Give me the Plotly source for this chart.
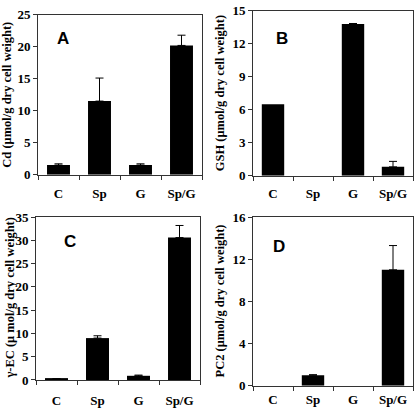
import plotly.graph_objects as go

categories = ["C", "Sp", "G", "Sp/G"]

cd_values = [1.5, 11.5, 1.5, 20.2]
cd_errors = [0.2, 3.6, 0.2, 1.6]

gsh_values = [6.5, 0.0, 13.8, 0.8]
gsh_errors = [None, None, 0.05, 0.5]

gec_values = [0.2, 9.0, 0.9, 30.6]
gec_errors = [0.05, 0.5, 0.15, 2.6]

pc2_values = [0.0, 1.0, 0.0, 11.0]
pc2_errors = [None, 0.05, None, 2.3]

W, H = 416, 414

panels = [
    (cd_values, cd_errors, "Cd (μmol/g dry cell weight)", "A", 25, 5, (38, 202, 8, 174), (63, 33), 7, 7),
    (gsh_values, gsh_errors, "GSH (μmol/g dry cell weight)", "B", 15, 3, (253, 413, 4, 175), (282, 33), 220, 6),
    (gec_values, gec_errors, "γ-EC (μ mol/g dry cell weight)", "C", 35, 5, (36, 200, 218, 387), (70, 243), 10, 8),
    (pc2_values, pc2_errors, "PC2 (μmol/g dry cell weight)", "D", 16, 4, (253, 413, 218, 393), (279, 248), 220, 2),
]

fig = go.Figure()
serif = "Liberation Serif"
annotations = []

for i, (vals, errs, title, letter, ymax, dtick, box, lpos, tx, standoff) in enumerate(panels):
    idx = "" if i == 0 else str(i + 1)
    l, r, t, b = box
    fig.add_trace(go.Bar(
        x=categories, y=vals,
        marker=dict(color="black", line=dict(width=0)),
        width=0.56,
        xaxis="x" + idx, yaxis="y" + idx, showlegend=False,
    ))
    # error bars only where an error value exists
    ex = [c for c, e in zip(categories, errs) if e is not None]
    ey = [v for v, e in zip(vals, errs) if e is not None]
    ee = [e for e in errs if e is not None]
    fig.add_trace(go.Scatter(
        x=ex, y=ey, mode="markers", marker=dict(size=0.1, opacity=0),
        error_y=dict(type="data", symmetric=False, array=ee,
                     arrayminus=[0] * len(ee), color="black",
                     thickness=1, width=4),
        xaxis="x" + idx, yaxis="y" + idx, showlegend=False, hoverinfo="skip",
    ))
    fig.layout["xaxis" + idx] = dict(
        domain=[l / W, r / W], anchor="y" + idx, type="category",
        categoryorder="array", categoryarray=categories,
        showline=True, mirror=True, linecolor="#333", linewidth=1,
        ticks="outside", tickson="boundaries", ticklen=4, tickcolor="#333",
        ticklabelstandoff=standoff,
        tickfont=dict(family=serif, size=13, color="black", weight="bold"),
        showgrid=False, zeroline=False, fixedrange=True,
    )
    fig.layout["yaxis" + idx] = dict(
        domain=[1 - b / H, 1 - t / H], anchor="x" + idx,
        range=[0, ymax], dtick=dtick, tick0=0,
        showline=True, mirror=True, linecolor="#333", linewidth=1,
        ticks="outside", ticklen=4, tickcolor="#333",
        tickfont=dict(family=serif, size=13, color="black", weight="bold"),
        showgrid=False, zeroline=False, fixedrange=True,
    )
    annotations.append(dict(
        text=letter, x=lpos[0] / W, y=1 - lpos[1] / H, xref="paper", yref="paper",
        showarrow=False, font=dict(family="Liberation Sans", size=17, color="black", weight="bold"),
        xanchor="center", yanchor="middle",
    ))
    annotations.append(dict(
        text=title, x=tx / W, y=1 - ((t + b) / 2) / H, xref="paper", yref="paper",
        showarrow=False, textangle=-90,
        font=dict(family=serif, size=12.5, color="black", weight="bold"),
        xanchor="center", yanchor="middle",
    ))

fig.update_layout(
    width=W, height=H, margin=dict(l=0, r=0, t=0, b=0),
    paper_bgcolor="white", plot_bgcolor="white",
    annotations=annotations, bargap=0.44,
)

fig.write_html("out.html", config={"displayModeBar": False},
               post_script="document.body.style.margin='0';document.body.style.overflow='hidden';")
